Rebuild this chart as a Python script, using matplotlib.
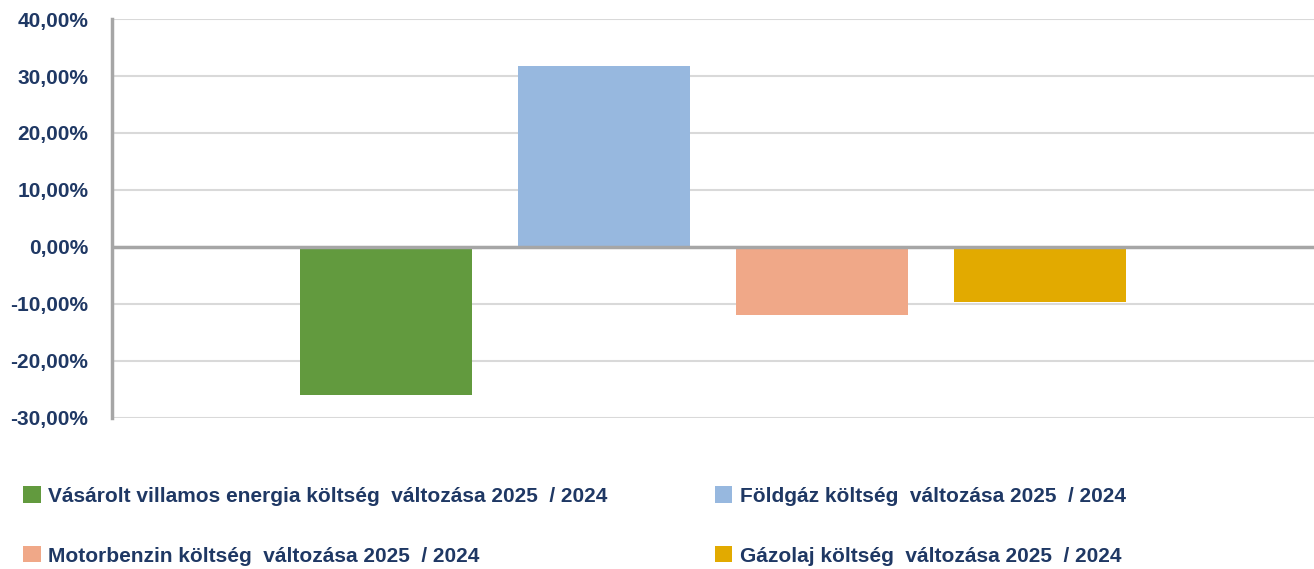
import matplotlib
matplotlib.use("Agg")
import matplotlib.pyplot as plt
from matplotlib.patches import Patch
from matplotlib.ticker import FuncFormatter

labels = ["Vásárolt villamos energia költség  változása 2025  / 2024",
          "Földgáz költség  változása 2025  / 2024",
          "Motorbenzin költség  változása 2025  / 2024",
          "Gázolaj költség  változása 2025  / 2024"]
values = [-25.9, 31.7, -11.9, -9.6]
colors = ["#629A3E", "#97B8DF", "#F0A888", "#E2AA00"]
yticks = [-30, -20, -10, 0, 10, 20, 30, 40]

txtcol = "#1F3864"
fam = ["Liberation Sans", "DejaVu Sans"]
plt.rcParams['font.family'] = fam

fig = plt.figure(figsize=(13.14, 5.69), dpi=100)
ax = fig.add_axes([0.0852, 0.2654, 0.9148, 0.7012])

x = range(len(values))
ax.bar(x, values, width=0.789, color=colors, zorder=3)
ax.set_xlim(-1.257, 4.257)
ax.set_ylim(-30, 40)
ax.set_yticks(yticks)
ax.yaxis.set_major_formatter(FuncFormatter(lambda v, p: ("%.2f%%" % v).replace(".", ",")))
ax.set_xticks([])
ax.grid(axis='y', color="#D9D9D9", linewidth=1.5, zorder=0)
ax.axhline(0, color="#A6A6A6", linewidth=2.5, zorder=4)
for s in ["top", "right", "bottom"]:
    ax.spines[s].set_visible(False)
ax.spines["left"].set_color("#A6A6A6")
ax.spines["left"].set_linewidth(2.5)
ax.tick_params(axis='y', length=0, pad=17, labelsize=15, labelcolor=txtcol)
for t in ax.get_yticklabels():
    t.set_fontweight("bold")

# legend fills column-wise, reorder so rows read green/blue, salmon/gold
order = [0, 2, 1, 3]
handles = [Patch(facecolor=colors[i], edgecolor='none') for i in order]
leg = fig.legend(handles, [labels[i] for i in order], ncol=2, loc='upper left',
                 bbox_to_anchor=(0.0115, 0.16), frameon=False,
                 prop={'family': fam, 'weight': 'bold', 'size': 15},
                 handlelength=0.82, handleheight=0.82, handletextpad=0.38,
                 labelspacing=1.95, columnspacing=5.15, borderaxespad=0)
for t in leg.get_texts():
    t.set_color(txtcol)

fig.savefig("out.png", dpi=100)
